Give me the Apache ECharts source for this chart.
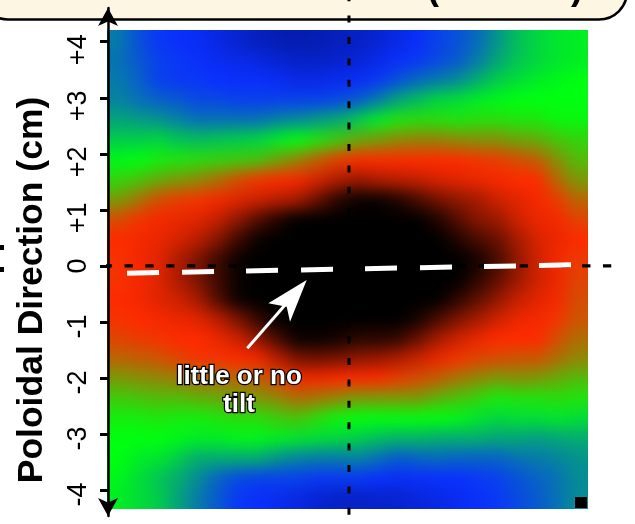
<!DOCTYPE html>
<html><head><meta charset="utf-8">
<script src="https://cdn.jsdelivr.net/npm/echarts@6.0.0/dist/echarts.min.js"></script>
<style>
html,body{margin:0;padding:0;background:#fff;overflow:hidden;}
#wrap{position:relative;width:635px;height:524px;}
#heat,#c{position:absolute;left:0;top:0;width:635px;height:524px;}
#heat{filter:url(#smooth);}
</style>
</head><body>
<svg width="0" height="0" style="position:absolute;left:0;top:0">
  <filter id="smooth" x="0" y="0" width="100%" height="100%" color-interpolation-filters="sRGB">
    <feGaussianBlur in="SourceGraphic" stdDeviation="8" result="b"/>
    <feComponentTransfer in="b" result="n"><feFuncA type="linear" slope="0" intercept="1"/></feComponentTransfer>
    <feComponentTransfer in="SourceAlpha" result="m"><feFuncA type="discrete" tableValues="0 1 1 1 1 1 1 1 1 1 1 1 1 1 1 1 1 1 1 1"/></feComponentTransfer>
    <feComposite in="n" in2="m" operator="in"/>
  </filter>
</svg>
<div id="wrap"><div id="heat"></div><div id="c"></div></div>
<script>
// Column / row centres (cm) of the sampled intensity field
const xCats = ['-4.12','-3.77','-3.41','-3.05','-2.70','-2.34','-1.98','-1.62','-1.27','-0.91','-0.55','-0.20','0.16','0.52','0.87','1.23','1.59','1.95','2.30','2.66','3.02','3.37','3.73','4.09'];
const yCats = ['4.01','3.66','3.30','2.95','2.59','2.24','1.89','1.53','1.18','0.82','0.47','0.11','-0.24','-0.60','-0.95','-1.31','-1.66','-2.02','-2.37','-2.73','-3.08','-3.44','-3.79','-4.14'];

// Intensity (0 = dark blue ... 100 = black), rows from top to bottom
const row01 = [34,29,26,24,22,17,12,8,5,4,5,7,9,13,18,23,27,29,32,37,42,45,47,48];
const row02 = [33,30,27,26,24,21,19,17,13,10,10,11,14,19,24,26,28,30,34,39,43,45,47,48];
const row03 = [34,31,27,26,26,25,24,24,22,19,19,21,23,26,29,32,34,36,40,44,46,48,49,50];
const row04 = [35,33,31,30,28,28,27,27,27,27,27,28,30,34,39,42,45,46,48,49,50,50,50,50];
const row05 = [39,38,37,35,33,33,33,33,35,36,38,40,44,48,53,54,54,53,54,54,53,53,51,51];
const row06 = [44,44,45,43,42,43,44,45,48,50,53,56,60,62,64,65,65,64,63,63,61,60,57,55];
const row07 = [49,50,52,53,54,55,56,57,61,65,69,73,75,75,75,75,75,75,74,73,71,69,63,58];
const row08 = [55,57,60,62,64,67,71,74,75,76,79,83,85,83,82,81,79,78,77,76,75,75,68,62];
const row09 = [62,66,71,73,74,76,78,80,82,84,90,96,99,99,97,93,89,86,84,80,78,76,73,68];
const row10 = [71,74,76,77,78,81,86,92,97,100,100,100,100,100,100,100,97,92,87,85,80,77,76,72];
const row11 = [75,76,77,79,82,87,94,99,100,100,100,100,100,100,100,100,100,97,93,90,84,79,77,75];
const row12 = [74,76,78,83,88,94,99,100,100,100,100,100,100,100,100,100,100,100,98,93,86,80,76,73];
const row13 = [74,76,78,83,88,94,99,100,100,100,100,100,100,100,100,100,100,100,96,91,85,80,77,72];
const row14 = [75,76,78,80,84,92,99,100,100,100,100,100,100,100,100,100,100,96,91,86,81,78,76,71];
const row15 = [74,75,76,77,78,82,88,95,100,100,100,100,100,100,100,98,93,88,84,80,77,76,74,70];
const row16 = [72,73,74,75,75,77,80,86,93,99,99,98,96,96,95,90,84,80,77,75,75,75,71,67];
const row17 = [68,69,70,72,74,74,75,76,82,88,89,88,86,85,83,80,77,74,72,71,70,70,67,64];
const row18 = [62,63,64,65,67,67,68,69,72,76,76,75,75,75,73,71,69,66,64,62,63,62,60,58];
const row19 = [56,57,58,58,59,60,61,62,64,67,66,64,62,62,62,62,59,57,55,52,53,53,54,53];
const row20 = [52,52,53,52,52,53,54,54,56,57,54,51,50,50,50,50,50,49,47,45,46,46,47,46];
const row21 = [50,50,50,49,48,48,49,49,48,47,46,45,44,42,41,41,40,40,40,39,39,38,39,40];
const row22 = [50,48,47,44,40,40,40,40,37,35,34,34,35,33,30,31,32,31,31,31,33,34,35,37];
const row23 = [49,46,43,40,36,31,28,27,27,27,26,26,26,25,23,24,25,25,26,27,29,31,33,36];
const row24 = [48,46,44,39,34,30,26,24,21,17,13,10,10,11,12,15,18,21,24,26,28,30,33,36];
const fieldRows = [row01,row02,row03,row04,row05,row06,row07,row08,row09,row10,row11,row12,
                   row13,row14,row15,row16,row17,row18,row19,row20,row21,row22,row23,row24];

// Axis ticks
const yTickValues = [-4,-3,-2,-1,0,1,2,3,4];
const yTickLabels = ['-4','-3','-2','-1','0','+1','+2','+3','+4'];

// Reference lines (cm)
const crossLineX = [0, 0];
const crossLineY = [4.745, -4.606];
const zeroLineX = [-4.747, 4.70];
const zeroLineY = [0, 0];
// Fitted tilt line (white dashes)
const tiltLineX = [-3.96, 4.03];
const tiltLineY = [-0.13, 0.02];

const heatData = [];
fieldRows.forEach((row, i) => row.forEach((v, j) => heatData.push([j, i, v])));

const FONT = 'Liberation Sans, Arial, Helvetica, sans-serif';

// Layer 1: the intensity map
const heatChart = echarts.init(document.getElementById('heat'), null, {renderer: 'canvas'});
heatChart.setOption({
  animation: false,
  backgroundColor: 'transparent',
  grid: {left: 108, top: 31, width: 479, height: 477, containLabel: false},
  xAxis: {type: 'category', data: xCats, show: false},
  yAxis: {type: 'category', data: yCats, inverse: true, show: false},
  visualMap: {
    type: 'continuous', show: false, min: 0, max: 100, seriesIndex: 0,
    inRange: {color: ['#0418a0', '#0a30ff', '#00ff10', '#ff2a00', '#000000']}
  },
  series: [{
    type: 'heatmap', data: heatData,
    itemStyle: {borderWidth: 0}, emphasis: {disabled: true}, silent: true
  }]
});

// Layer 2: axes, guide lines and annotations
const chart = echarts.init(document.getElementById('c'), null, {renderer: 'canvas'});
chart.setOption({
  animation: false,
  backgroundColor: 'transparent',
  grid: {left: 108, right: 0, top: 8, bottom: 8, containLabel: false},
  xAxis: {type: 'value', min: -4.30, max: 5.104, show: false},
  yAxis: {
    type: 'value', min: -4.463, max: 4.602, position: 'left', z: 5,
    axisLine: {show: true, onZero: false, lineStyle: {color: '#000', width: 2.5},
               symbol: ['arrow', 'arrow'], symbolSize: [15, 18]},
    axisTick: {show: true, inside: false, length: 8, customValues: yTickValues,
               lineStyle: {color: '#000', width: 3}},
    splitLine: {show: false},
    axisLabel: {
      show: true, customValues: yTickValues, rotate: 90, margin: 16,
      formatter: function (v) {
        const k = yTickValues.indexOf(Math.round(v));
        const s = yTickLabels[k];
        if (s.charAt(0) === '+') return '{p|' + s + '}';
        if (s.charAt(0) === '-') return '{m|' + s + '}';
        return '{z|' + s + '}';
      },
      rich: {
        p: {fontSize: 27, fontFamily: FONT, color: '#000', padding: [0, 16, 0, 0]},
        m: {fontSize: 27, fontFamily: FONT, color: '#000', padding: [0, 9, 0, 0]},
        z: {fontSize: 27, fontFamily: FONT, color: '#000'}
      }
    }
  },
  series: [
    {
      type: 'line', clip: false, silent: true, symbol: 'none', z: 6,
      data: crossLineX.map((x, i) => [x, crossLineY[i]]),
      lineStyle: {color: '#000', width: 3, type: [7, 14.4], dashOffset: 5.8, cap: 'butt'}
    },
    {
      type: 'line', clip: false, silent: true, symbol: 'none', z: 6,
      data: zeroLineX.map((x, i) => [x, zeroLineY[i]]),
      lineStyle: {color: '#000', width: 3.3, type: [8.3, 12.5], cap: 'butt'}
    },
    {
      type: 'line', clip: false, silent: true, symbol: 'none', z: 7,
      data: tiltLineX.map((x, i) => [x, tiltLineY[i]]),
      lineStyle: {color: '#ffffff', width: 5, type: [32, 23, 32, 32], cap: 'butt'}
    }
  ],
  graphic: [
    {type: 'rect', z: -10, silent: true,
     shape: {x: -20, y: -50, width: 647, height: 69.5, r: 28},
     style: {fill: '#fcf6e3', stroke: '#000', lineWidth: 2.5}},
    {type: 'text', z: -9, silent: true, x: 433, y: -11,
     style: {text: '(', font: 'bold 36px ' + FONT, fill: '#000', textAlign: 'center', textVerticalAlign: 'middle'}},
    {type: 'text', z: -9, silent: true, x: 577, y: -11,
     style: {text: ')', font: 'bold 36px ' + FONT, fill: '#000', textAlign: 'center', textVerticalAlign: 'middle'}},
    {type: 'text', z: 10, silent: true, x: 32, y: 290, rotation: Math.PI / 2,
     style: {text: 'Poloidal Direction (cm)', font: 'bold 35.5px ' + FONT, fill: '#000',
             textAlign: 'center', textVerticalAlign: 'middle'}},
    {type: 'rect', z: 10, silent: true, shape: {x: 0, y: 245, width: 4, height: 5}, style: {fill: '#000'}},
    {type: 'rect', z: 10, silent: true, shape: {x: 0, y: 267, width: 4, height: 5}, style: {fill: '#000'}},
    {type: 'rect', z: 10, silent: true, shape: {x: 575, y: 497, width: 12, height: 11}, style: {fill: '#000'}},
    {type: 'line', z: 20, silent: true,
     shape: {x1: 247.3, y1: 348.3, x2: 292, y2: 297},
     style: {stroke: '#fff', lineWidth: 3}},
    {type: 'polygon', z: 20, silent: true,
     shape: {points: [[306.7, 280], [268.3, 303.3], [286.7, 306.7], [290, 321.7]]},
     style: {fill: '#fff'}},
    {type: 'text', z: 20, silent: true, x: 239, y: 363,
     style: {text: 'little or no\ntilt', font: 'bold 26px ' + FONT, fill: '#fff',
             stroke: '#000', lineWidth: 2.5, textAlign: 'center', textVerticalAlign: 'top',
             lineHeight: 28}}
  ]
});
</script></body></html>
